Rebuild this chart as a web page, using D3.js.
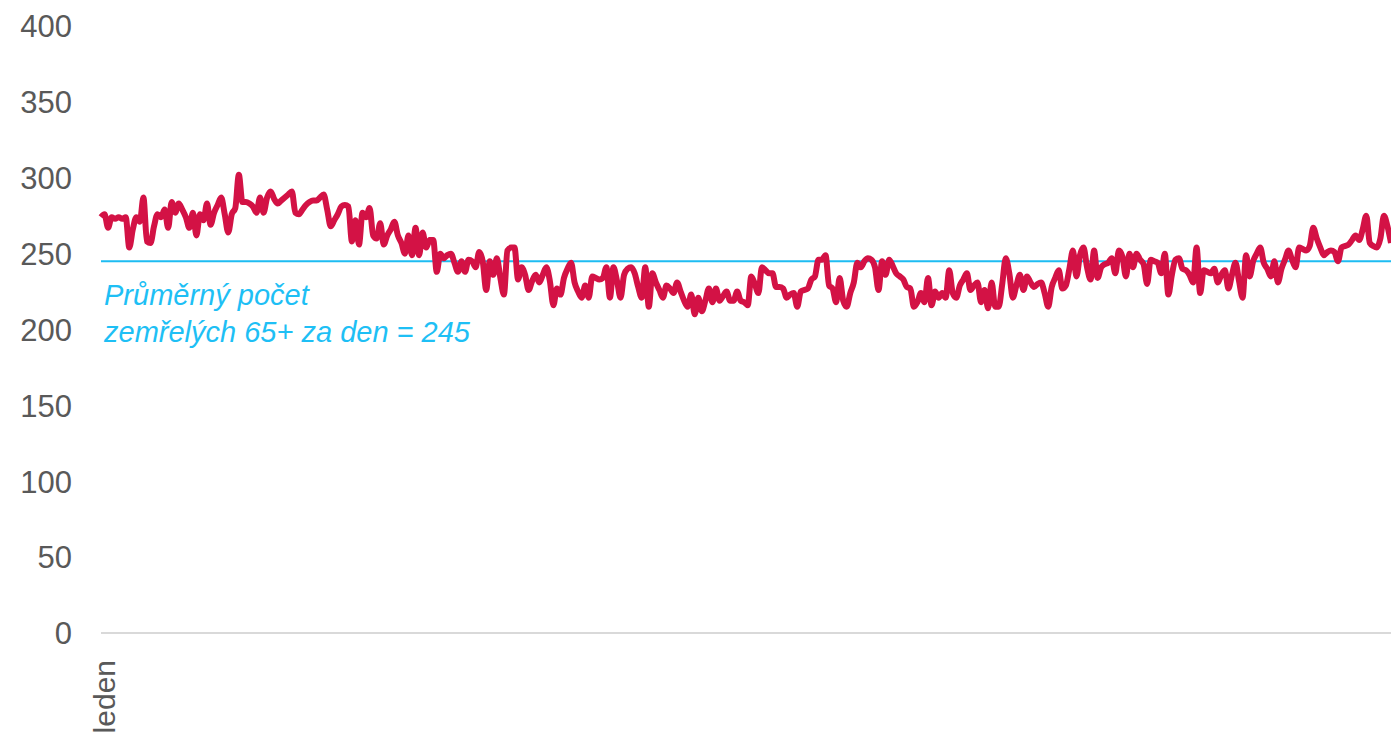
<!DOCTYPE html>
<html><head><meta charset="utf-8">
<script src="https://cdn.jsdelivr.net/npm/d3@7"></script>
<style>html,body{margin:0;padding:0;background:#fff;overflow:hidden}</style>
</head><body>
<svg id="chart" width="1391" height="737"></svg>
<script>
const yTicks = [0, 50, 100, 150, 200, 250, 300, 350, 400];
const xLabels = ["leden"];
const averageValue = 245;
const averageLabel = ["Průměrný počet", "zemřelých 65+ za den = 245"];
const deaths = [
274,276,267,274,273,274,273,274,254,266,274,271,287,258,257,268,276,274,279,267,
284,277,283,279,274,267,277,262,276,272,283,269,277,282,287,276,264,276,280,302,
284,284,283,281,277,287,277,287,291,286,283,285,287,289,291,277,276,279,282,284,
285,285,287,289,279,268,272,276,281,282,281,258,272,256,277,274,280,262,260,270,
256,262,266,271,262,257,250,262,249,267,249,264,254,259,259,238,250,247,249,250,
244,238,245,238,246,245,241,251,245,226,245,236,247,234,223,252,254,254,233,241,
236,226,232,236,231,236,241,232,216,227,223,234,240,244,231,225,221,229,221,235,
234,233,234,241,221,241,232,221,236,240,241,237,228,221,241,215,237,231,226,221,
229,227,224,231,225,219,215,223,210,221,212,219,227,218,227,219,222,225,219,219,
225,219,218,216,235,230,224,241,239,237,237,228,228,227,221,223,224,215,225,226,
227,233,235,246,246,249,229,227,218,234,219,215,224,231,244,241,245,247,246,241,
226,245,236,246,242,237,235,233,228,227,215,218,224,218,234,216,225,221,224,221,
239,224,221,229,233,237,226,229,231,218,226,214,231,215,215,230,247,237,221,229,
236,226,235,231,228,230,231,224,215,228,234,239,227,229,240,252,235,249,254,241,
233,252,234,241,243,244,247,237,252,248,235,250,241,250,246,243,230,246,245,244,
237,250,223,236,246,247,240,239,236,231,254,224,239,238,237,240,231,236,239,227,
236,244,232,221,249,235,245,250,254,244,240,235,245,231,240,246,252,246,241,254,
253,252,255,267,260,254,249,251,252,251,245,254,255,256,259,262,259,266,275,257,
255,254,260,275,268,257
];

const svg = d3.select("#chart");
const mLeft = 101, mRight = 1391, mTop = 26, mBottom = 633;
const x = d3.scaleLinear().domain([0, deaths.length - 1]).range([mLeft, mRight]);
const y = d3.scaleLinear().domain([0, 400]).range([mBottom, mTop]);
const font = "Liberation Sans, Arial, sans-serif";

// y axis labels
const yAxis = d3.axisLeft(y).tickValues(yTicks).tickSize(0).tickPadding(29);
const gy = svg.append("g").attr("transform", `translate(${mLeft},0)`).call(yAxis);
gy.select(".domain").remove();
gy.selectAll("text").attr("fill", "#595959").attr("font-size", "31px")
  .attr("font-family", font).attr("dy", "0.35em");

// baseline
svg.append("line").attr("x1", mLeft).attr("x2", mRight)
  .attr("y1", y(0)).attr("y2", y(0)).attr("stroke", "#d9d9d9").attr("stroke-width", 2);

// x label
svg.append("text").attr("transform", `translate(${x(0) + 14},${y(0) + 27}) rotate(-90)`)
  .attr("text-anchor", "end").attr("fill", "#595959").attr("font-size", "30px")
  .attr("font-family", font).text(xLabels[0]);

// average line
svg.append("line").attr("x1", mLeft).attr("x2", mRight)
  .attr("y1", y(averageValue)).attr("y2", y(averageValue))
  .attr("stroke", "#1ebcf2").attr("stroke-width", 2);

averageLabel.forEach((t, i) => {
  svg.append("text").attr("x", mLeft + 3).attr("y", y(averageValue) + 44 + i * 37)
    .attr("fill", "#1ebff5").attr("font-size", "29px").attr("font-style", "italic")
    .attr("font-family", font).text(t);
});

// data line
const line = d3.line().x((d, i) => x(i)).y(d => y(d)).curve(d3.curveMonotoneX);
svg.append("path").datum(deaths).attr("d", line).attr("fill", "none")
  .attr("stroke", "#d31245").attr("stroke-width", 6).attr("stroke-linejoin", "round");
</script>
</body></html>
